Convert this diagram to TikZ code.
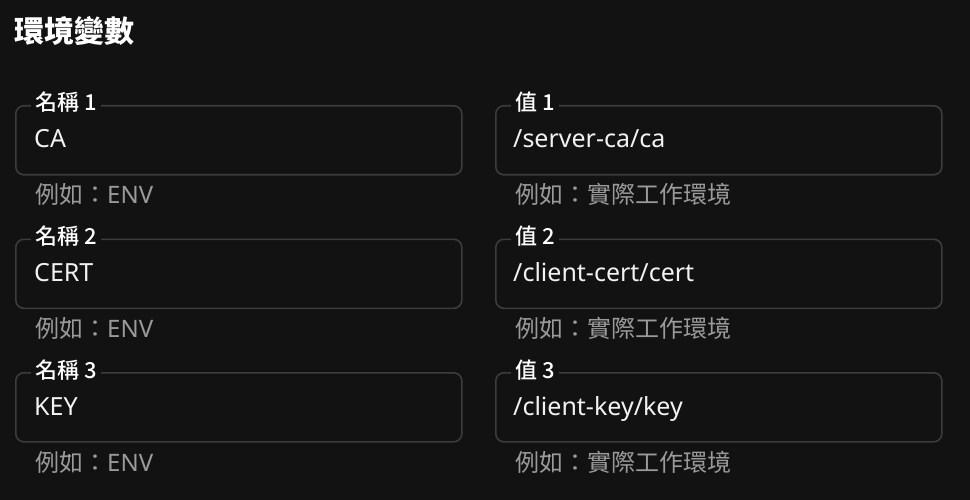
\documentclass[tikz,border=0pt]{standalone}
\usepackage{fontspec}
\setmainfont{Noto Sans}
\newfontfamily\cjk{Noto Sans CJK TC}
\newfontfamily\cjkmed{Noto Sans CJK TC}[UprightFont=* Medium]
\definecolor{bg}{HTML}{121212}
\definecolor{bd}{HTML}{3C3C3C}
\definecolor{hint}{HTML}{9A9A9A}
\definecolor{fg}{HTML}{F2F2F2}
\begin{document}
\begin{tikzpicture}[x=1pt,y=-1pt,
  field/.style={draw=bd, line width=1.6pt, rounded corners=8pt, minimum width=446pt, minimum height=69pt, anchor=north west, inner sep=0pt},
  flabel/.style={fill=bg, text=white, font=\fontsize{22}{22}\selectfont\cjkmed, anchor=base west, inner xsep=4pt, inner ysep=1pt},
  fvalue/.style={text=fg, font=\fontsize{25}{25}\selectfont, anchor=base west, inner sep=0pt},
  fhint/.style={text=hint, font=\fontsize{24}{24}\selectfont, anchor=base west, inner sep=0pt},
  ftitle/.style={text=white, font=\fontsize{30}{30}\selectfont\cjk\bfseries, anchor=base west, inner sep=0pt}]
\fill[bg] (0,0) rectangle (970,500);
\useasboundingbox (0,0) rectangle (970,500);
\node[ftitle] (title) at (14,43) {環境變數};
\foreach \i/\dy/\nm/\val in {1/0/CA/{/server-ca/ca}, 2/133.5/CERT/{/client-cert/cert}, 3/267/KEY/{/client-key/key}}{
  \node[field] (nbox\i) at (15,105+\dy) {};
  \node[flabel] (nlab\i) at (31,111+\dy) {名稱 \i};
  \node[fvalue] (nval\i) at (34,148+\dy) {\nm};
  \node[fhint] (nhint\i) at (35,204+\dy) {{\cjk 例如：}ENV};
  \node[field] (vbox\i) at (495,105+\dy) {};
  \node[flabel] (vlab\i) at (511,111+\dy) {值 \i};
  \node[fvalue] (vval\i) at (513,148+\dy) {\val};
  \node[fhint] (vhint\i) at (515,204+\dy) {\cjk 例如：實際工作環境};
}
\end{tikzpicture}
\end{document}
